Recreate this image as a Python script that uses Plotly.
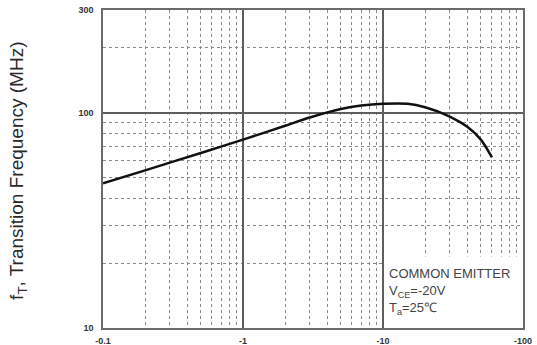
import plotly.graph_objects as go
import numpy as np

# Data (collector current magnitude, |Ic| in mA -> plotted as negative labels)
ic_abs = [0.1, 0.2, 0.5, 1, 2, 3, 5, 7, 10, 15, 20, 30, 40, 50, 60]
ft_mhz = [47, 54, 65, 75, 87, 95, 104, 108, 110, 110, 106, 96, 86, 75, 62]

x_tickvals = [0.1, 1, 10, 100]
x_ticktext = ["-0.1", "-1", "-10", "-100"]
y_tickvals = [10, 100, 300]
y_ticktext = ["10", "100", "300"]

x_minor = [m * d for d in [0.1, 1, 10] for m in range(2, 10)]
y_minor = [20, 30, 40, 50, 60, 70, 80, 90, 200]

fig = go.Figure()
fig.add_trace(go.Scatter(
    x=ic_abs, y=ft_mhz, mode="lines",
    line=dict(color="#111111", width=2.5, shape="spline", smoothing=0.8),
    hoverinfo="skip", showlegend=False,
))

axis_common = dict(
    showline=True, linecolor="#6b6b6b", linewidth=1.5, mirror=True,
    showgrid=True, gridcolor="#5e5e5e", gridwidth=1.5,
    zeroline=False, ticks="", automargin=False,
    tickfont=dict(family="Liberation Sans, Arial", size=9, color="#333333", weight="bold"),
)

fig.update_xaxes(
    type="log", range=[-1, 2],
    tickmode="array", tickvals=x_tickvals, ticktext=x_ticktext,
    ticklabelstandoff=3,
    minor=dict(tickmode="array", tickvals=x_minor, showgrid=True,
               gridcolor="#8a8a8a", gridwidth=1, griddash="dot", ticks=""),
    **axis_common,
)
fig.update_yaxes(
    type="log", range=[1, np.log10(300)],
    tickmode="array", tickvals=y_tickvals, ticktext=y_ticktext,
    ticklabelstandoff=6,
    minor=dict(tickmode="array", tickvals=y_minor, showgrid=True,
               gridcolor="#8a8a8a", gridwidth=1, griddash="dot", ticks=""),
    **axis_common,
)

# white background behind the condition note
fig.add_shape(type="rect", xref="x", yref="y",
              x0=10.25, x1=96.5, y0=10.25, y1=21.5,
              fillcolor="white", line=dict(width=0), layer="above")

fig.add_annotation(
    xref="paper", yref="paper", x=0.676, y=0.116,
    xanchor="left", yanchor="middle", align="left", showarrow=False,
    text="COMMON EMITTER<br>V<sub>CE</sub>=-20V<br>T<sub>a</sub>=25℃",
    font=dict(family="Liberation Sans, Arial", size=13, color="#444444"),
)

fig.add_annotation(
    xref="paper", yref="paper", x=-0.2024, y=0.494,
    xanchor="center", yanchor="middle", showarrow=False, textangle=-90,
    text="f<sub>T</sub>, Transition Frequency (MHz)",
    font=dict(family="Liberation Sans, Arial", size=19, color="#2a2a2a"),
)

fig.update_layout(
    width=537, height=345,
    margin=dict(l=103, r=14, t=10, b=17),
    paper_bgcolor="white", plot_bgcolor="white",
)

fig.write_html("out.html")
